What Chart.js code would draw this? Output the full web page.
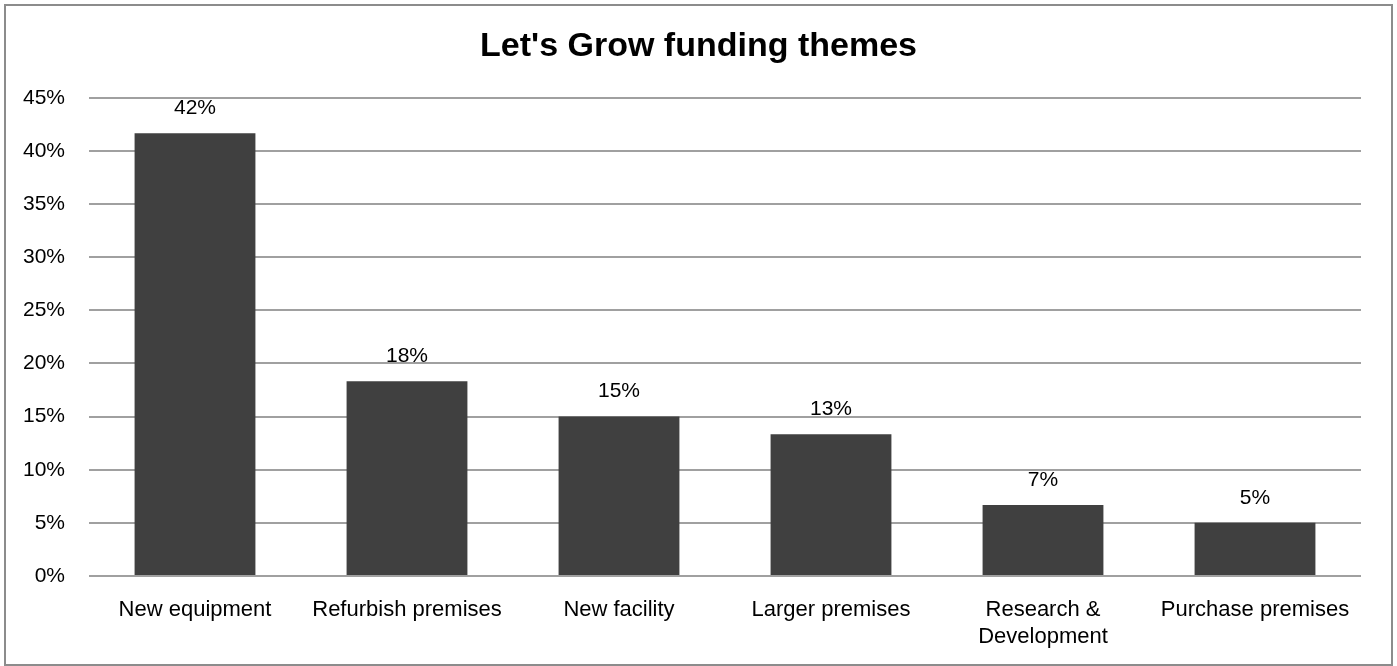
<!DOCTYPE html>
<html>
<head>
<meta charset="utf-8">
<script src="https://cdn.jsdelivr.net/npm/chart.js@4"></script>
<style>
  body { margin: 0; background: #fff; }
  #wrap { position: relative; width: 1397px; height: 666px; }
  #frame { position: absolute; left: 4px; top: 4px; width: 1385px; height: 658px; border: 2px solid #8c8c8c; pointer-events: none; }
</style>
</head>
<body>
<div id="wrap">
  <canvas id="chart" width="1397" height="666"></canvas>
  <div id="frame"></div>
</div>
<script>
// categories and values (share of projects, %)
const categories = ['New equipment', 'Refurbish premises', 'New facility', 'Larger premises', ['Research &', 'Development'], 'Purchase premises'];
const shares = [41.67, 18.33, 15, 13.33, 6.67, 5];
const yTicks = [0, 5, 10, 15, 20, 25, 30, 35, 40, 45];

const FONT = '"Liberation Sans", Arial, sans-serif';

// draws the % label above each bar
const barLabels = {
  id: 'barLabels',
  afterDatasetsDraw(chart) {
    const c = chart.ctx;
    const meta = chart.getDatasetMeta(0);
    c.save();
    c.font = '21px ' + FONT;
    c.fillStyle = '#000';
    c.textAlign = 'center';
    c.textBaseline = 'middle';
    meta.data.forEach((bar, i) => {
      c.fillText(Math.round(shares[i]) + '%', bar.x, bar.y - 25);
    });
    c.restore();
  }
};

new Chart(document.getElementById('chart').getContext('2d'), {
  type: 'bar',
  data: {
    labels: categories,
    datasets: [{
      data: shares,
      backgroundColor: '#404040',
      categoryPercentage: 1,
      barPercentage: 0.57
    }]
  },
  options: {
    responsive: false,
    animation: false,
    layout: { padding: 0 },
    plugins: {
      legend: { display: false },
      tooltip: { enabled: false },
      title: {
        display: true,
        text: "Let's Grow funding themes",
        color: '#000',
        font: { family: FONT, size: 34, weight: 'bold', lineHeight: 1.2 },
        padding: { top: 26, bottom: 31 }
      }
    },
    scales: {
      x: {
        grid: { display: false },
        border: { display: false },
        ticks: { color: '#000', font: { family: FONT, size: 22, lineHeight: 1.25 }, padding: 12, maxRotation: 0, autoSkip: false },
        afterFit: s => { s.height = 90; }
      },
      y: {
        min: 0,
        max: 45,
        afterBuildTicks: s => { s.ticks = yTicks.map(v => ({ value: v })); },
        grid: { color: '#a0a0a0', lineWidth: 2, drawTicks: false },
        border: { display: false },
        ticks: { color: '#000', font: { family: FONT, size: 21 }, padding: 24, callback: v => v + '%' },
        afterFit: s => { s.width = 89; }
      },
      // empty right-hand axis, only keeps the right margin so the title stays centred on the page
      yRight: {
        position: 'right',
        grid: { display: false },
        border: { display: false },
        ticks: { display: false },
        afterFit: s => { s.width = 36; }
      }
    }
  },
  plugins: [barLabels]
});
</script>
</body>
</html>
